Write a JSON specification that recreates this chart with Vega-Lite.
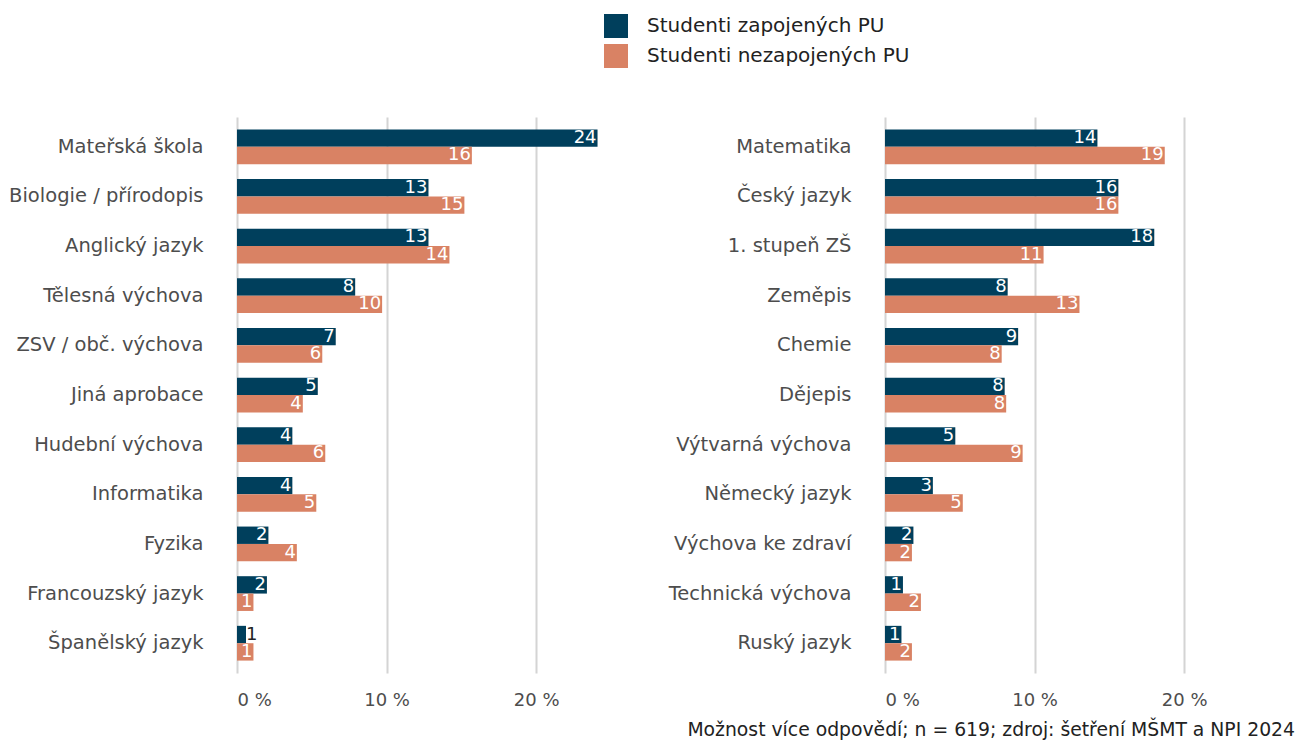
{
  "$schema": "https://vega.github.io/schema/vega-lite/v6.json",
  "background": "white",
  "padding": {"left": 8, "top": 14, "right": 3, "bottom": 0},
  "config": {
    "font": "DejaVu Sans",
    "view": {"stroke": null},
    "legend": {"orient": "none", "legendX": 367, "legendY": -103, "title": null, "symbolType": "square", "symbolSize": 576, "symbolStrokeWidth": 0, "labelFontSize": 20, "labelColor": "#222222", "labelOffset": 19, "rowPadding": 6, "labelLimit": 400}
  },
  "datasets": {
    "left": [
      {"subject": "Mateřská škola", "series": "Studenti zapojených PU", "value": 24.1},
      {"subject": "Mateřská škola", "series": "Studenti nezapojených PU", "value": 15.7},
      {"subject": "Biologie / přírodopis", "series": "Studenti zapojených PU", "value": 12.8},
      {"subject": "Biologie / přírodopis", "series": "Studenti nezapojených PU", "value": 15.2},
      {"subject": "Anglický jazyk", "series": "Studenti zapojených PU", "value": 12.8},
      {"subject": "Anglický jazyk", "series": "Studenti nezapojených PU", "value": 14.2},
      {"subject": "Tělesná výchova", "series": "Studenti zapojených PU", "value": 7.9},
      {"subject": "Tělesná výchova", "series": "Studenti nezapojených PU", "value": 9.7},
      {"subject": "ZSV / obč. výchova", "series": "Studenti zapojených PU", "value": 6.6},
      {"subject": "ZSV / obč. výchova", "series": "Studenti nezapojených PU", "value": 5.7},
      {"subject": "Jiná aprobace", "series": "Studenti zapojených PU", "value": 5.4},
      {"subject": "Jiná aprobace", "series": "Studenti nezapojených PU", "value": 4.4},
      {"subject": "Hudební výchova", "series": "Studenti zapojených PU", "value": 3.7},
      {"subject": "Hudební výchova", "series": "Studenti nezapojených PU", "value": 5.9},
      {"subject": "Informatika", "series": "Studenti zapojených PU", "value": 3.7},
      {"subject": "Informatika", "series": "Studenti nezapojených PU", "value": 5.3},
      {"subject": "Fyzika", "series": "Studenti zapojených PU", "value": 2.1},
      {"subject": "Fyzika", "series": "Studenti nezapojených PU", "value": 4.0},
      {"subject": "Francouzský jazyk", "series": "Studenti zapojených PU", "value": 2.0},
      {"subject": "Francouzský jazyk", "series": "Studenti nezapojených PU", "value": 1.1},
      {"subject": "Španělský jazyk", "series": "Studenti zapojených PU", "value": 0.6},
      {"subject": "Španělský jazyk", "series": "Studenti nezapojených PU", "value": 1.1}
    ],
    "right": [
      {"subject": "Matematika", "series": "Studenti zapojených PU", "value": 14.2},
      {"subject": "Matematika", "series": "Studenti nezapojených PU", "value": 18.7},
      {"subject": "Český jazyk", "series": "Studenti zapojených PU", "value": 15.6},
      {"subject": "Český jazyk", "series": "Studenti nezapojených PU", "value": 15.6},
      {"subject": "1. stupeň ZŠ", "series": "Studenti zapojených PU", "value": 18.0},
      {"subject": "1. stupeň ZŠ", "series": "Studenti nezapojených PU", "value": 10.6},
      {"subject": "Zeměpis", "series": "Studenti zapojených PU", "value": 8.2},
      {"subject": "Zeměpis", "series": "Studenti nezapojených PU", "value": 13.0},
      {"subject": "Chemie", "series": "Studenti zapojených PU", "value": 8.9},
      {"subject": "Chemie", "series": "Studenti nezapojených PU", "value": 7.8},
      {"subject": "Dějepis", "series": "Studenti zapojených PU", "value": 8.0},
      {"subject": "Dějepis", "series": "Studenti nezapojených PU", "value": 8.1},
      {"subject": "Výtvarná výchova", "series": "Studenti zapojených PU", "value": 4.7},
      {"subject": "Výtvarná výchova", "series": "Studenti nezapojených PU", "value": 9.2},
      {"subject": "Německý jazyk", "series": "Studenti zapojených PU", "value": 3.2},
      {"subject": "Německý jazyk", "series": "Studenti nezapojených PU", "value": 5.2},
      {"subject": "Výchova ke zdraví", "series": "Studenti zapojených PU", "value": 1.9},
      {"subject": "Výchova ke zdraví", "series": "Studenti nezapojených PU", "value": 1.8},
      {"subject": "Technická výchova", "series": "Studenti zapojených PU", "value": 1.2},
      {"subject": "Technická výchova", "series": "Studenti nezapojených PU", "value": 2.4},
      {"subject": "Ruský jazyk", "series": "Studenti zapojených PU", "value": 1.1},
      {"subject": "Ruský jazyk", "series": "Studenti nezapojených PU", "value": 1.8}
    ]
  },
  "title": {"text": "Možnost více odpovědí; n = 619; zdroj: šetření MŠMT a NPI 2024", "orient": "bottom", "anchor": "end", "fontSize": 18.8, "fontWeight": "normal", "color": "#222222", "offset": 12, "dx": 36},
  "spacing": 57,
  "hconcat": [
    {
      "data": {"name": "left"},
      "width": 374,
      "height": 556,
      "encoding": {
        "y": {"field": "subject", "type": "nominal", "sort": null, "title": null, "scale": {"paddingInner": 0.3, "paddingOuter": 0.25}, "axis": {"ticks": false, "domain": false, "labelPadding": 34, "labelFontSize": 19.5, "labelColor": "#4d4d4d", "labelLimit": 300}},
        "yOffset": {"field": "series", "type": "nominal", "sort": ["Studenti zapojených PU", "Studenti nezapojených PU"], "scale": {"paddingInner": 0}},
        "x": {"field": "value", "type": "quantitative", "scale": {"domain": [0, 25]}, "title": null, "axis": {"values": [0, 10, 20], "labelExpr": "datum.value + ' %'", "grid": true, "gridColor": "#d4d4d4", "gridWidth": 2, "ticks": false, "domain": false, "labelPadding": 18, "labelFontSize": 18, "labelColor": "#4d4d4d"}}
      },
      "layer": [
        {"mark": {"type": "bar"}, "encoding": {"color": {"field": "series", "type": "nominal", "scale": {"domain": ["Studenti zapojených PU", "Studenti nezapojených PU"], "range": ["#003f5c", "#d98264"]}}}},
        {"transform": [{"filter": "datum.value >= 1"}], "mark": {"type": "text", "align": "right", "baseline": "middle", "dx": -1, "color": "white", "fontSize": 18}, "encoding": {"text": {"field": "value", "type": "quantitative", "format": ".0f"}}},
        {"transform": [{"filter": "datum.value < 1"}], "mark": {"type": "text", "align": "left", "baseline": "middle", "dx": 0, "color": "#222222", "fontSize": 18}, "encoding": {"text": {"field": "value", "type": "quantitative", "format": ".0f"}}}
      ]
    },
    {
      "data": {"name": "right"},
      "width": 374,
      "height": 556,
      "encoding": {
        "y": {"field": "subject", "type": "nominal", "sort": null, "title": null, "scale": {"paddingInner": 0.3, "paddingOuter": 0.25}, "axis": {"ticks": false, "domain": false, "labelPadding": 34, "labelFontSize": 19.5, "labelColor": "#4d4d4d", "labelLimit": 300}},
        "yOffset": {"field": "series", "type": "nominal", "sort": ["Studenti zapojených PU", "Studenti nezapojených PU"], "scale": {"paddingInner": 0}},
        "x": {"field": "value", "type": "quantitative", "scale": {"domain": [0, 25]}, "title": null, "axis": {"values": [0, 10, 20], "labelExpr": "datum.value + ' %'", "grid": true, "gridColor": "#d4d4d4", "gridWidth": 2, "ticks": false, "domain": false, "labelPadding": 18, "labelFontSize": 18, "labelColor": "#4d4d4d"}}
      },
      "layer": [
        {"mark": {"type": "bar"}, "encoding": {"color": {"field": "series", "type": "nominal", "scale": {"domain": ["Studenti zapojených PU", "Studenti nezapojených PU"], "range": ["#003f5c", "#d98264"]}}}},
        {"transform": [{"filter": "datum.value >= 1"}], "mark": {"type": "text", "align": "right", "baseline": "middle", "dx": -1, "color": "white", "fontSize": 18}, "encoding": {"text": {"field": "value", "type": "quantitative", "format": ".0f"}}}
      ]
    }
  ]
}
